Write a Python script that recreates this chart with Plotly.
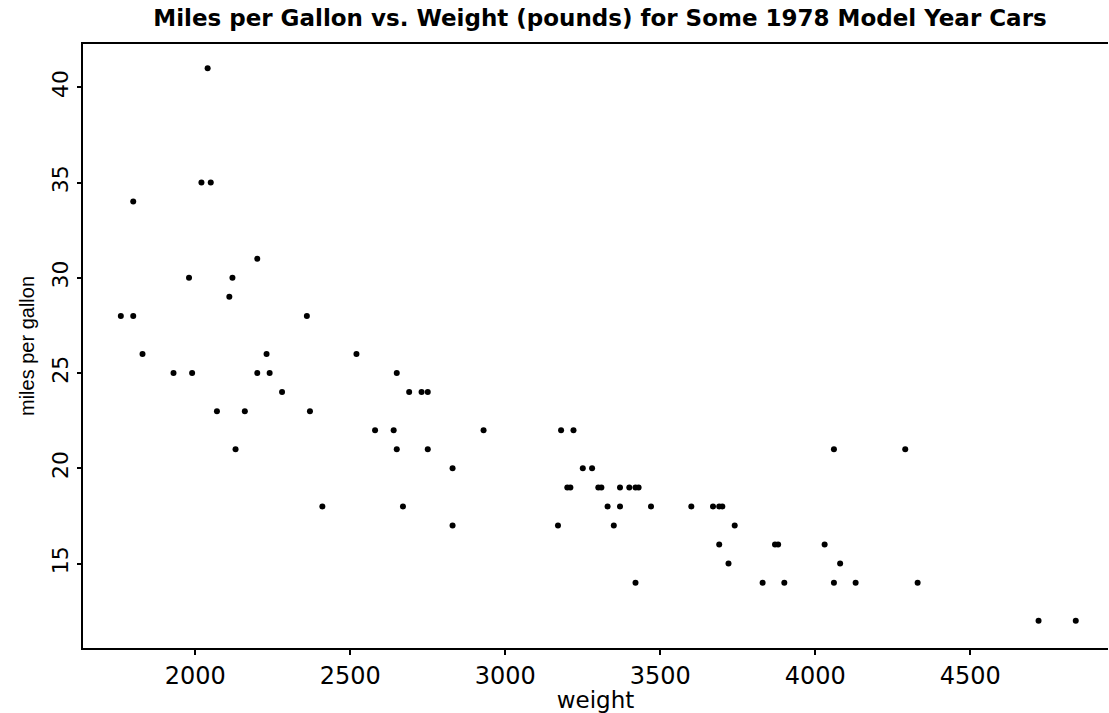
import plotly.graph_objects as go

# Weight (pounds) and mileage (mpg)
weight = [2040, 2020, 2050, 1800, 2200, 1980, 2120, 2110, 1760, 1800, 2360,
          1830, 2230, 2520, 1930, 1990, 2200, 2240, 2650, 2280, 2690, 2730, 2750,
          2070, 2160, 2370, 2580, 2640, 2930, 3180, 3220, 2130, 2650, 2750, 4060, 4290,
          2830, 3250, 3280, 3200, 3210, 3300, 3310, 3370, 3400, 3420, 3430,
          2410, 2670, 3330, 3370, 3470, 3600, 3670, 3690, 3700,
          2830, 3170, 3350, 3740, 3690, 3870, 3880, 4030, 3720, 4080,
          3420, 3830, 3900, 4060, 4130, 4330, 4720, 4840]
mpg = [41, 35, 35, 34, 31, 30, 30, 29, 28, 28, 28,
       26, 26, 26, 25, 25, 25, 25, 25, 24, 24, 24, 24,
       23, 23, 23, 22, 22, 22, 22, 22, 21, 21, 21, 21, 21,
       20, 20, 20, 19, 19, 19, 19, 19, 19, 19, 19,
       18, 18, 18, 18, 18, 18, 18, 18, 18,
       17, 17, 17, 17, 16, 16, 16, 16, 15, 15,
       14, 14, 14, 14, 14, 14, 12, 12]

x_ticks = [2000, 2500, 3000, 3500, 4000, 4500]
y_ticks = [15, 20, 25, 30, 35, 40]

fig = go.Figure()
fig.add_trace(go.Scatter(
    x=weight, y=mpg, mode="markers",
    marker=dict(color="black", size=6),
    showlegend=False, hoverinfo="x+y",
))

fig.update_layout(
    width=1109, height=713,
    margin=dict(l=83, r=1, t=44, b=65),
    paper_bgcolor="white", plot_bgcolor="white",
    font=dict(family="DejaVu Sans", color="black"),
    title=dict(
        text="Miles per Gallon vs. Weight (pounds) for Some 1978 Model Year Cars",
        x=0.541, xanchor="center", y=0.975, yanchor="middle", yref="container",
        font=dict(family="DejaVu Sans", size=23, color="black", weight="bold"),
    ),
)
fig.update_xaxes(
    range=[1638, 4944], tickvals=x_ticks, ticktext=[str(v) for v in x_ticks],
    showgrid=False, zeroline=False,
    showline=True, linecolor="black", linewidth=2, mirror=True,
    ticks="outside", ticklen=5, tickwidth=2, tickcolor="black",
    tickfont=dict(size=24, family="DejaVu Sans"),
    title=dict(text="weight", font=dict(size=23, family="DejaVu Sans"), standoff=0),
)
fig.update_yaxes(
    range=[10.57, 42.27], tickvals=y_ticks, ticktext=[str(v) for v in y_ticks],
    showgrid=False, zeroline=False,
    showline=True, linecolor="black", linewidth=2, mirror=False,
    ticks="outside", ticklen=4, tickwidth=2, tickcolor="black",
    tickangle=-90,
    tickfont=dict(size=22, family="DejaVu Sans"),
    title=dict(text="miles per gallon", font=dict(size=20, family="Liberation Sans"), standoff=8),
)

fig.write_html(
    "out.html",
    config={"displayModeBar": False},
    post_script="document.body.style.margin='0';document.body.style.overflow='hidden';",
)
